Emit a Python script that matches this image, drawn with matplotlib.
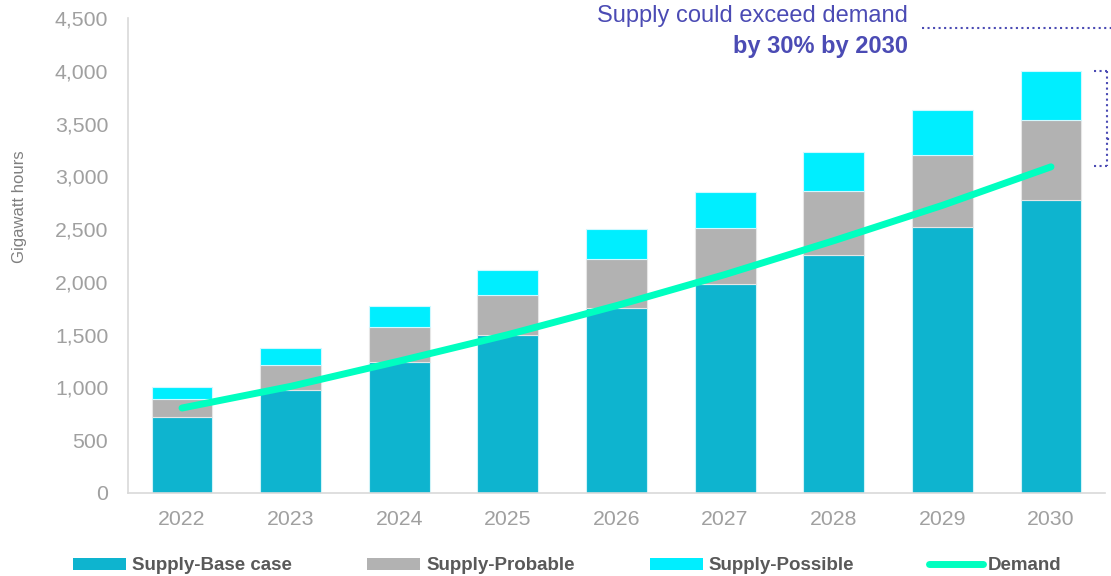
import matplotlib
matplotlib.use("Agg")
import matplotlib.pyplot as plt
from matplotlib.patches import Patch
from matplotlib.lines import Line2D
from matplotlib.ticker import FuncFormatter

years = ["2022", "2023", "2024", "2025", "2026", "2027", "2028", "2029", "2030"]
base_case = [720, 976, 1241, 1497, 1753, 1980, 2255, 2520, 2776]
probable = [170, 237, 332, 379, 464, 530, 606, 682, 758]
possible = [114, 161, 199, 237, 284, 342, 369, 426, 464]
demand = [805, 1010, 1250, 1500, 1775, 2070, 2390, 2725, 3090]

C_BASE = "#0EB4CF"
C_PROB = "#B2B2B2"
C_POSS = "#00EEFF"
C_DEM = "#00FFC0"
C_ANN = "#4B4BB4"
C_TICK = "#A0A0A0"

plt.rcParams["font.family"] = ["Liberation Sans", "DejaVu Sans"]

fig = plt.figure(figsize=(11.11, 5.76), dpi=100)
ax = fig.add_axes([127.7 / 1111, 83 / 576, 977.6 / 1111, 475 / 576])

x = list(range(len(years)))
w = 0.56
bottom2 = [b for b in base_case]
bottom3 = [b + p for b, p in zip(base_case, probable)]
ax.bar(x, base_case, width=w, color=C_BASE, edgecolor="#CFF3F8", linewidth=0.8, zorder=2)
ax.bar(x, probable, width=w, bottom=bottom2, color=C_PROB, edgecolor="#E6E6E6", linewidth=0.8, zorder=2)
ax.bar(x, possible, width=w, bottom=bottom3, color=C_POSS, edgecolor="#CFF9FF", linewidth=0.8, zorder=2)
ax.plot(x, demand, color=C_DEM, linewidth=5, solid_capstyle="round", zorder=3)

ax.set_xlim(-0.5, len(years) - 0.5)
ax.set_ylim(0, 4500)
ax.set_yticks(range(0, 4501, 500))
ax.yaxis.set_major_formatter(FuncFormatter(lambda v, p: f"{int(v):,}"))
ax.set_xticks(x)
ax.set_xticklabels(years)
ax.tick_params(axis="both", length=0, labelsize=15.3, labelcolor=C_TICK)
ax.tick_params(axis="x", pad=12)
ax.tick_params(axis="y", pad=14)
for s in ["top", "right"]:
    ax.spines[s].set_visible(False)
for s in ["left", "bottom"]:
    ax.spines[s].set_color("#D9D9D9")
    ax.spines[s].set_linewidth(1.2)

fig.text(20 / 1111, 1 - 207 / 576, "Gigawatt hours", rotation=90, ha="center", va="center",
         fontsize=12, color="#7F7F7F")

# annotation
fig.text(908 / 1111, 1 - 16 / 576, "Supply could exceed demand", ha="right", va="center",
         fontsize=17, color=C_ANN)
fig.text(908 / 1111, 1 - 47 / 576, "by 30% by 2030", ha="right", va="center",
         fontsize=17, color=C_ANN, fontweight="bold")
fig.add_artist(Line2D([922 / 1111, 1.0], [1 - 28 / 576, 1 - 28 / 576], transform=fig.transFigure,
                      color=C_ANN, linestyle=":", linewidth=1.5))
# bracket
bx0, bx1 = 1094 / 1111, 1107 / 1111
by0, by1 = 1 - 71 / 576, 1 - 166 / 576
bym = 1 - 139 / 576
for xs, ys in [([bx0, bx1], [by0, by0]), ([bx1, bx1], [by0, by1]), ([bx0, bx1], [by1, by1]),
               ([bx1, 1.0], [bym, bym])]:
    fig.add_artist(Line2D(xs, ys, transform=fig.transFigure, color=C_ANN, linestyle=":", linewidth=1.5))

handles = [
    Patch(facecolor=C_BASE, edgecolor="none"),
    Patch(facecolor=C_PROB, edgecolor="none"),
    Patch(facecolor=C_POSS, edgecolor="none"),
    Line2D([0], [0], color=C_DEM, linewidth=5, solid_capstyle="round"),
]
labels = ["Supply-Base case", "Supply-Probable", "Supply-Possible", "Demand"]
leg = fig.legend(handles, labels, loc="center left", bbox_to_anchor=(73 / 1111, 1 - 566 / 576),
                 ncol=4, frameon=False, borderpad=0, borderaxespad=0,
                 handlelength=2.85, handleheight=0.55, handletextpad=0.3, columnspacing=4.0,
                 prop={"size": 13.5, "weight": "bold"})
for t in leg.get_texts():
    t.set_color("#595959")

fig.savefig("out.png", dpi=100)
